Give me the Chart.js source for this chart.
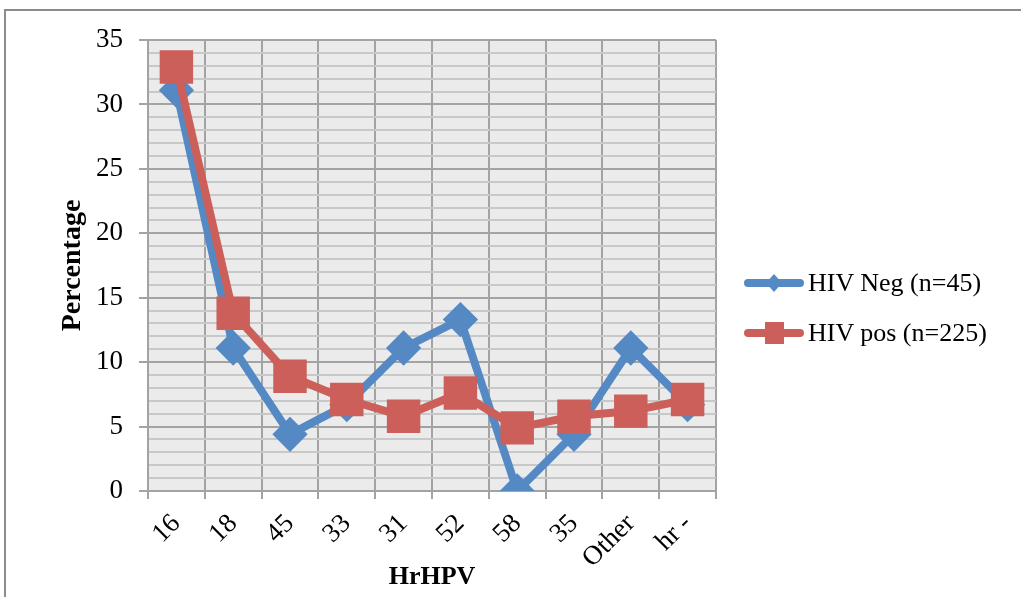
<!DOCTYPE html>
<html>
<head>
<meta charset="utf-8">
<script src="https://cdn.jsdelivr.net/npm/chart.js@4.4.1/dist/chart.umd.min.js"></script>
<style>
  html, body { margin: 0; padding: 0; background: #fff; }
  #frame { position: absolute; left: 4px; top: 9px; width: 1100px; height: 700px;
           border-top: 2px solid #8c8c8c; border-left: 2px solid #8c8c8c; }
  #wrap { position: absolute; left: 0; top: 0; width: 1021px; height: 597px; }
  #legend { position: absolute; left: 743px; top: 258px; font-family: "Liberation Serif", "Times New Roman", serif;
            font-size: 26px; color: #000; }
  #legend .row { display: flex; align-items: center; height: 50px; }
  #legend canvas { display: block; margin-right: 3px; }
</style>
</head>
<body>
<div id="frame"></div>
<div id="wrap"><canvas id="chart" width="1021" height="597"></canvas></div>
<div id="legend"></div>
<script>
// Chart data
const categories = ['16', '18', '45', '33', '31', '52', '58', '35', 'Other', 'hr -'];
const hivNeg = [31.1, 11.1, 4.4, 6.7, 11.1, 13.3, 0, 4.4, 11.1, 6.7];
const hivPos = [32.9, 13.8, 8.9, 7.1, 5.8, 7.6, 4.9, 5.8, 6.2, 7.1];
const seriesNames = ['HIV Neg (n=45)', 'HIV pos (n=225)'];

const blue = '#5489c4';
const red = '#cc5f59';

// legend sample: line with marker in the middle
function legendSample(color, shape) {
    const c = document.createElement('canvas');
    c.width = 62; c.height = 30;
    const ctx = c.getContext('2d');
    ctx.strokeStyle = color;
    ctx.lineWidth = 8;
    ctx.lineCap = 'round';
    ctx.beginPath();
    ctx.moveTo(5, 15);
    ctx.lineTo(57, 15);
    ctx.stroke();
    ctx.fillStyle = color;
    if (shape === 'diamond') {
        ctx.beginPath();
        ctx.moveTo(31, 6); ctx.lineTo(39, 15); ctx.lineTo(31, 24); ctx.lineTo(23, 15);
        ctx.closePath();
        ctx.fill();
    } else {
        ctx.fillRect(22, 4, 19, 22);
    }
    return c;
}

// gray plot background
const plotBg = {
    id: 'plotBg',
    beforeDraw(chart) {
        const { ctx, chartArea } = chart;
        ctx.save();
        ctx.fillStyle = '#ebebeb';
        ctx.fillRect(chartArea.left, chartArea.top, chartArea.right - chartArea.left, chartArea.bottom - chartArea.top);
        ctx.restore();
    }
};

const serif = '"Liberation Serif", "Times New Roman", serif';
const pad = { left: 56, top: 40, right: 305, bottom: 4 };

const chart = new Chart(document.getElementById('chart').getContext('2d'), {
    type: 'line',
    data: {
        labels: categories,
        datasets: [{
            label: seriesNames[0],
            data: hivNeg,
            borderColor: blue,
            backgroundColor: blue,
            borderWidth: 8,
            pointStyle: 'rectRot',
            pointRadius: 12,
            pointHoverRadius: 12,
            tension: 0,
            order: 1
        }, {
            label: seriesNames[1],
            data: hivPos,
            borderColor: red,
            backgroundColor: red,
            borderWidth: 8,
            pointStyle: 'rect',
            pointRadius: 18,
            pointHoverRadius: 18,
            tension: 0,
            order: 0
        }]
    },
    options: {
        responsive: false,
        animation: false,
        layout: { padding: pad },
        plugins: {
            tooltip: { enabled: false },
            legend: { display: false }
        },
        scales: {
            x: {
                offset: true,
                afterFit: s => { s.height = 597 - 491 - pad.bottom; },
                grid: { offset: true, color: '#a3a3a3', lineWidth: 2, tickLength: 8, tickColor: '#a3a3a3' },
                border: { color: '#a3a3a3', width: 2 },
                ticks: { color: '#000', font: { family: serif, size: 27 }, maxRotation: 45, minRotation: 45, padding: 9 },
                title: { display: true, text: 'HrHPV', color: '#000', font: { family: serif, size: 26, weight: 'bold' }, padding: { top: 0, bottom: 0 } }
            },
            y: {
                min: 0,
                max: 35,
                afterFit: s => { s.width = 148 - pad.left; },
                ticks: {
                    stepSize: 1,
                    autoSkip: false,
                    color: '#000',
                    padding: 16,
                    font: { family: serif, size: 27 },
                    callback: v => (v % 5 === 0 ? v : '')
                },
                grid: {
                    color: c => (c.tick && c.tick.value % 5 === 0 ? '#a3a3a3' : '#c8c8c8'),
                    lineWidth: 2,
                    tickLength: 9,
                    tickColor: c => (c.tick && c.tick.value % 5 === 0 ? '#a3a3a3' : 'rgba(0,0,0,0)')
                },
                border: { color: '#a3a3a3', width: 2 },
                title: { display: true, text: 'Percentage', color: '#000', font: { family: serif, size: 28, weight: 'bold' }, padding: { top: 0, bottom: 0 } }
            }
        }
    },
    plugins: [plotBg]
});

// HTML legend built from the datasets
const legendEl = document.getElementById('legend');
const shapes = ['diamond', 'square'];
chart.data.datasets.forEach((ds, i) => {
    const row = document.createElement('div');
    row.className = 'row';
    row.appendChild(legendSample(ds.borderColor, shapes[i]));
    const span = document.createElement('span');
    span.textContent = ds.label;
    row.appendChild(span);
    legendEl.appendChild(row);
});
</script>
</body>
</html>
